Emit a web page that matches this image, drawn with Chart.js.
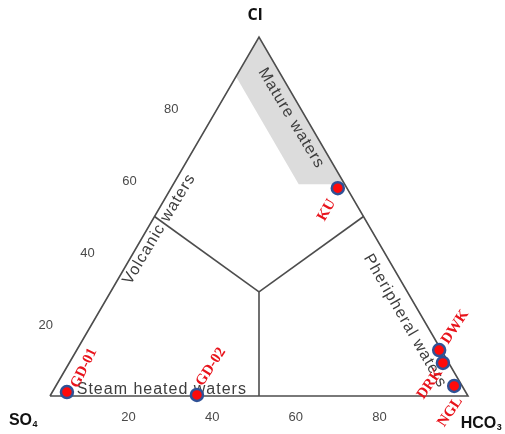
<!DOCTYPE html>
<html>
<head>
<meta charset="utf-8">
<script src="https://cdn.jsdelivr.net/npm/chart.js@4"></script>
<style>
  html, body { margin: 0; padding: 0; background: #fff; }
  #wrap { width: 505px; height: 434px; position: relative; }
</style>
</head>
<body>
<div id="wrap"><canvas id="chart"></canvas></div>
<script>
// Sample compositions (percent of Cl + SO4 + HCO3)
const samples = ['GD-01', 'GD-02', 'KU', 'DWK', 'DRK', 'NGL'];
const clPct = [1.1, 0.3, 57.9, 12.8, 9.2, 2.8];
const so4Pct = [95.4, 64.7, 2.2, 0.5, 1.4, 1.9];
const hco3Pct = [3.5, 35.0, 39.9, 86.7, 89.4, 95.3];

// Axis ticks
const tickValues = [20, 40, 60, 80];

// Field boundaries, as [Cl, SO4, HCO3]
const fieldCentre = [29, 35.5, 35.5];
const volcanicEnd = [50, 50, 0];
const peripheralEnd = [50, 0, 50];
const steamEnd = [0, 50, 50];
const matureBand = [[100, 0, 0], [89, 11, 0], [59, 11, 30], [59, 0, 41]];
const corners = [[0, 100, 0], [0, 0, 100], [100, 0, 0], [0, 100, 0]];

// ternary -> cartesian (x along SO4->HCO3, y = Cl)
function tern(c) {
    const s = c[0] + c[1] + c[2];
    return { x: (c[2] + c[0] / 2) / s * 100, y: c[0] / s * 100 };
}

const lineColor = '#4d4d4d';

function lineSet(points, order) {
    return {
        data: points.map(tern),
        showLine: true,
        borderColor: lineColor,
        borderWidth: 1.6,
        pointRadius: 0,
        fill: false,
        clip: false,
        order: order
    };
}

// Text labels drawn through the scales
const regionLabels = [
    { text: 'Mature waters', at: [77.4, 3.6, 19.0], angle: 59 },
    { text: 'Volcanic waters', at: [46.5, 50.6, 2.9], angle: -59 },
    { text: 'Pheripheral waters', at: [20.9, 4.6, 74.5], angle: 60 },
    { text: 'Steam heated waters', at: [1.7, 72.4, 25.9], angle: 0 }
];
const sampleLabelStyle = [
    { dx: 17, dy: -24, angle: -64 },
    { dx: 14, dy: -28, angle: -57 },
    { dx: -11, dy: 22, angle: -60 },
    { dx: 16, dy: -23, angle: -56 },
    { dx: -13, dy: 21, angle: -55 },
    { dx: -4, dy: 26, angle: -56 }
];

function px(chart, c) {
    const p = tern(c);
    return { x: chart.scales.x.getPixelForValue(p.x), y: chart.scales.y.getPixelForValue(p.y) };
}

function drawRotated(ctx, text, x, y, angle) {
    ctx.save();
    ctx.translate(x, y);
    ctx.rotate(angle * Math.PI / 180);
    ctx.fillText(text, 0, 0);
    ctx.restore();
}

function drawChem(ctx, main, sub, x, y) {
    ctx.save();
    ctx.font = 'bold 16px "Liberation Sans", Arial, sans-serif';
    const w = ctx.measureText(main).width;
    ctx.font = 'bold 9px "Liberation Sans", Arial, sans-serif';
    const ws = ctx.measureText(sub).width;
    const left = x - (w + ws) / 2;
    ctx.textAlign = 'left';
    ctx.textBaseline = 'middle';
    ctx.font = 'bold 16px "Liberation Sans", Arial, sans-serif';
    ctx.fillText(main, left, y);
    ctx.font = 'bold 9px "Liberation Sans", Arial, sans-serif';
    ctx.fillText(sub, left + w + 0.5, y + 4);
    ctx.restore();
}

const ternaryText = {
    id: 'ternaryText',
    beforeDatasetDraw(chart, args) {
        if (args.index !== 0) return;
        const ctx = chart.ctx;
        ctx.save();
        ctx.fillStyle = '#3d3d3d';
        ctx.font = '16px "Liberation Sans", Arial, sans-serif';
        ctx.letterSpacing = '1px';
        ctx.textAlign = 'center';
        ctx.textBaseline = 'middle';
        regionLabels.forEach(l => {
            const p = px(chart, l.at);
            drawRotated(ctx, l.text, p.x, p.y, l.angle);
        });
        ctx.restore();
    },
    afterDatasetsDraw(chart) {
        const ctx = chart.ctx;
        ctx.save();
        // tick labels
        ctx.fillStyle = '#4a4a4a';
        ctx.font = '13px "Liberation Sans", Arial, sans-serif';
        ctx.textAlign = 'center';
        ctx.textBaseline = 'middle';
        tickValues.forEach(t => {
            const b = px(chart, [0, 100 - t, t]);
            ctx.fillText(String(t), b.x - 5, b.y + 21);
            const l = px(chart, [t, 100 - t, 0]);
            ctx.fillText(String(t), l.x - 46, l.y + 1);
        });
        // corner labels
        ctx.fillStyle = '#111';
        const top = px(chart, [100, 0, 0]);
        ctx.font = 'bold 16px "Open Sans", "Liberation Sans", sans-serif';
        ctx.fillText('Cl', top.x - 4, top.y - 22);
        const so = px(chart, [0, 100, 0]);
        drawChem(ctx, 'SO', '4', so.x - 27, so.y + 25);
        const hc = px(chart, [0, 0, 100]);
        drawChem(ctx, 'HCO', '3', hc.x + 13, hc.y + 28);
        // sample labels
        ctx.fillStyle = '#e8141c';
        ctx.font = 'bold 15px "Liberation Serif", "Times New Roman", serif';
        samples.forEach((s, i) => {
            const p = px(chart, [clPct[i], so4Pct[i], hco3Pct[i]]);
            const st = sampleLabelStyle[i];
            drawRotated(ctx, s, p.x + st.dx, p.y + st.dy, st.angle);
        });
        ctx.restore();
    }
};

function init() {
    const points = samples.map((s, i) => tern([clPct[i], so4Pct[i], hco3Pct[i]]));

    new Chart(document.getElementById('chart'), {
        type: 'scatter',
        data: {
            datasets: [
                {
                    label: 'samples',
                    data: points,
                    pointRadius: 6,
                    pointBackgroundColor: '#ff0a0a',
                    pointBorderColor: '#2f5196',
                    pointBorderWidth: 2.5,
                    clip: false,
                    order: 0
                },
                lineSet(corners, 1),
                lineSet([volcanicEnd, fieldCentre], 1),
                lineSet([peripheralEnd, fieldCentre], 1),
                lineSet([steamEnd, fieldCentre], 1),
                {
                    data: matureBand.concat([matureBand[0]]).map(tern),
                    showLine: true,
                    borderWidth: 0,
                    borderColor: 'rgba(0,0,0,0)',
                    backgroundColor: '#dcdcdc',
                    pointRadius: 0,
                    fill: 'shape',
                    clip: false,
                    order: 2
                }
            ]
        },
        options: {
            responsive: true,
            maintainAspectRatio: false,
            animation: false,
            layout: { padding: { left: 50, right: 37, top: 37, bottom: 38 } },
            scales: {
                x: { type: 'linear', min: 0, max: 100, display: false },
                y: { type: 'linear', min: 0, max: 100, display: false }
            },
            plugins: {
                legend: { display: false },
                tooltip: { enabled: false }
            }
        },
        plugins: [ternaryText]
    });
}

document.addEventListener('DOMContentLoaded', init);
</script>
</body>
</html>
